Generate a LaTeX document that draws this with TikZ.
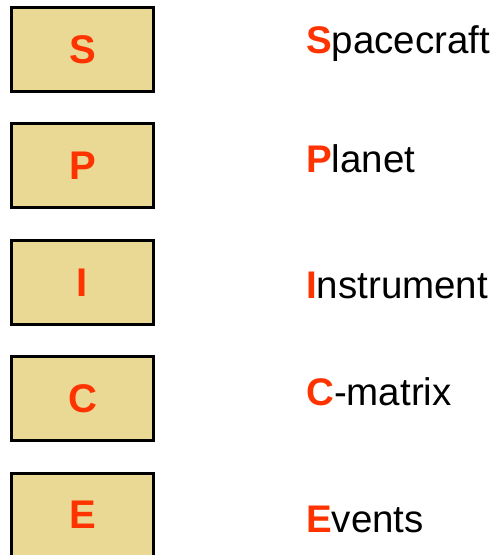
\documentclass[tikz,border=0pt]{standalone}
\usepackage{fontspec}
\setmainfont{Liberation Sans}
\definecolor{boxfill}{RGB}{233,217,148}
\definecolor{letterred}{RGB}{255,51,0}
\tikzset{
  letterbox/.style={draw=black, line width=3pt, fill=boxfill, inner sep=0pt,
    minimum width=142pt, minimum height=84pt,
    font=\fontsize{40pt}{40pt}\selectfont\bfseries, text=letterred},
  label/.style={anchor=base west, inner sep=0pt,
    font=\fontsize{38.5pt}{38.5pt}\selectfont, text=black}
}
\newcommand{\rl}[1]{\textcolor{letterred}{\bfseries #1}}
\begin{document}
\begin{tikzpicture}[x=1pt,y=-1pt]
\useasboundingbox (0,0) rectangle (494,555);
\clip (0,0) rectangle (494,555);
\node[letterbox] (bs) at (82.5,49.5) {S};
\node[letterbox] (bp) at (82.5,165.5) {P};
\node[letterbox] (bi) at (82.5,282.5) {I};
\node[letterbox] (bc) at (82.5,398.5) {C};
\node[letterbox] (be) at (82.5,515) {E};
\node[label] (ls) at (306,53) {\rl{S}pacecraft};
\node[label] (lp) at (306,172) {\rl{P}lanet};
\node[label] (li) at (306,298) {\rl{I}nstrument};
\node[label] (lc) at (306,405) {\rl{C}-matrix};
\node[label] (le) at (306,532) {\rl{E}vents};
\end{tikzpicture}
\end{document}
